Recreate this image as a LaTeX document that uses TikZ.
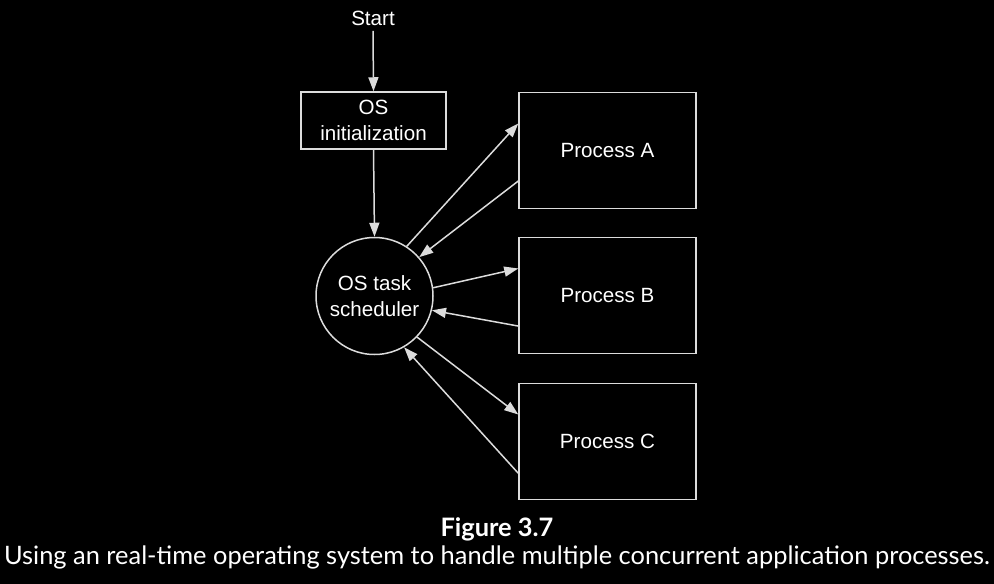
\documentclass[tikz,border=0pt]{standalone}
\usepackage{fontspec}
\setmainfont{Liberation Sans}
\newfontfamily\capfont{Lato}
\usetikzlibrary{arrows.meta,calc}
\definecolor{ln}{HTML}{DCDCDC}
\begin{document}
\begin{tikzpicture}[x=1pt,y=-1pt,
  every node/.style={text=white,font=\fontsize{20.6}{26}\selectfont},
  procbox/.style={draw=ln,line width=1.5pt,minimum width=177pt,minimum height=116pt,inner sep=0pt},
  initbox/.style={draw=ln,line width=1.5pt,minimum width=145pt,minimum height=57pt,inner sep=0pt,align=center},
  schedc/.style={draw=ln,line width=1.5pt,circle,minimum size=117pt,inner sep=0pt,align=center},
  conn/.style={draw=ln,line width=1.5pt,-{Triangle[length=14pt,width=10pt,fill=ln]}},
  captxt/.style={font=\capfont\fontsize{25.4}{29}\selectfont}]
\fill[black] (0,0) rectangle (994,584);
\useasboundingbox (0,0) rectangle (994,584);
\node (start) at (373,18) {Start};
\node[initbox] (init) at (373.5,120.5) {OS\\initialization};
\node[schedc] (sched) at (374.5,296) {OS task\\scheduler};
\node[procbox] (A) at (607.5,150.5) {Process A};
\node[procbox] (B) at (607.5,295.5) {Process B};
\node[procbox] (C) at (607.5,441.5) {Process C};
\node[captxt,font=\capfont\fontsize{25.4}{29}\selectfont\bfseries] (fig) at (497,529) {Figure 3.7};
\node[captxt] (cap) at (497,557) {Using an real-time operating system to handle multiple concurrent application processes.};
\draw[conn] ($(start.south)+(0,2)$) -- (init.north);
\draw[conn] (init.south) -- (sched.north);
\draw[conn] (sched.57) -- ($(A.north west)!0.27!(A.south west)$);
\draw[conn] ($(A.north west)!0.76!(A.south west)$) -- (sched.41);
\draw[conn] (sched.8) -- ($(B.north west)!0.27!(B.south west)$);
\draw[conn] ($(B.north west)!0.76!(B.south west)$) -- (sched.-14.5);
\draw[conn] (sched.-44) -- ($(C.north west)!0.27!(C.south west)$);
\draw[conn] ($(C.north west)!0.77!(C.south west)$) -- (sched.-60);
\end{tikzpicture}
\end{document}
